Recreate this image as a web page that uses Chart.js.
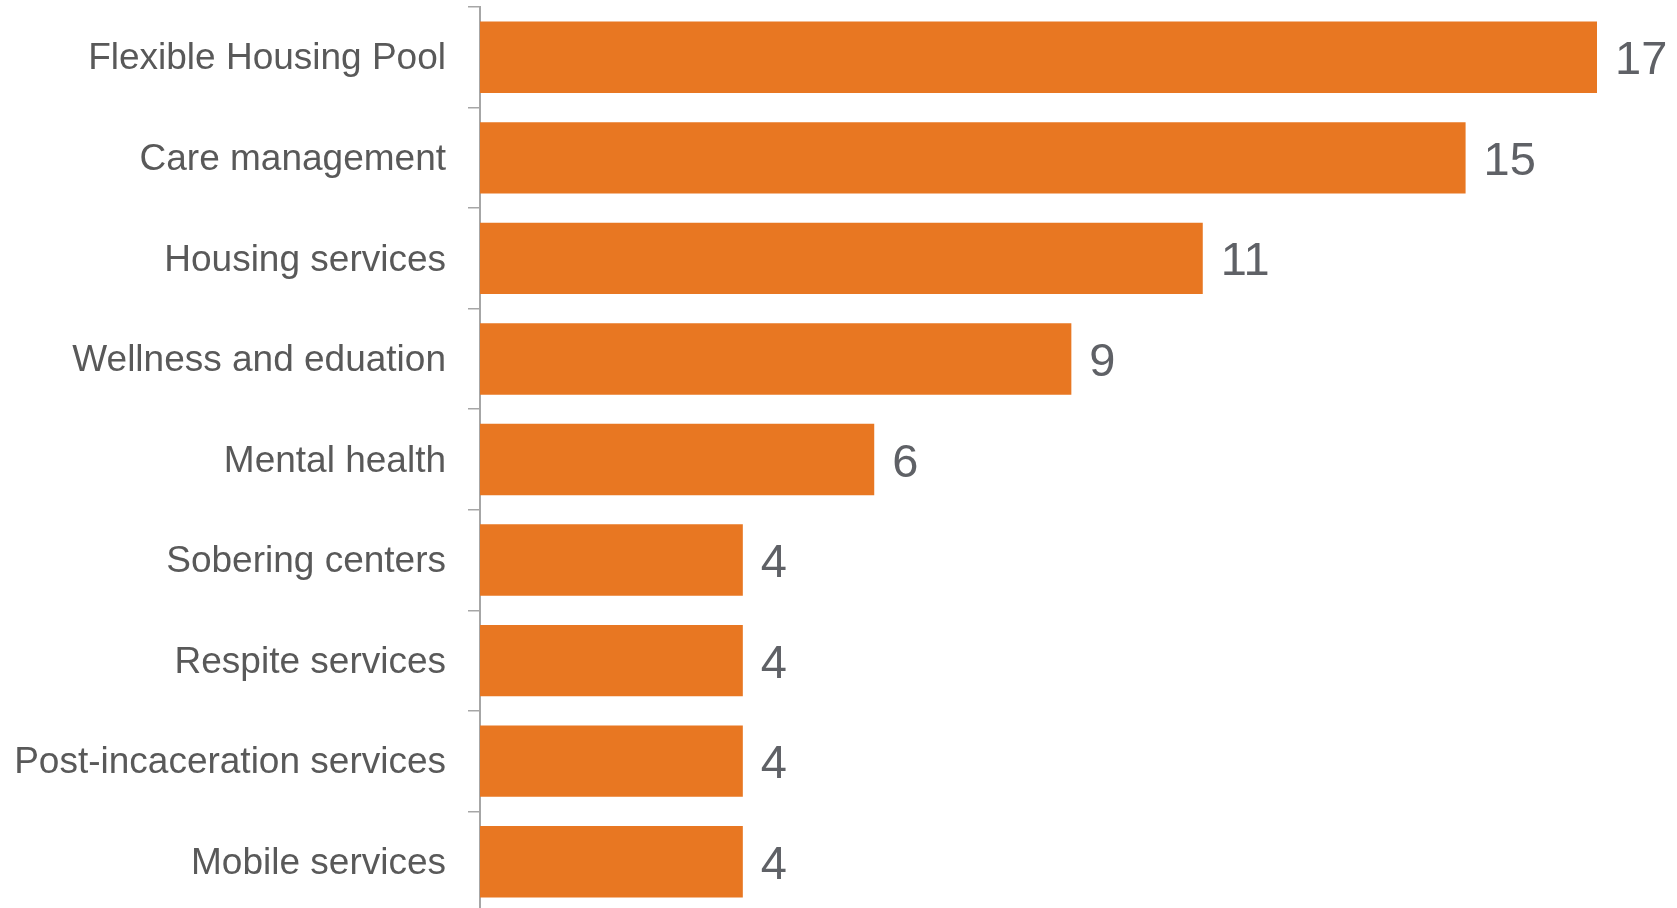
<!DOCTYPE html>
<html>
<head>
<meta charset="utf-8">
<script src="https://cdn.jsdelivr.net/npm/chart.js@4/dist/chart.umd.min.js"></script>
<style>
  html, body { margin: 0; padding: 0; background: #ffffff; overflow: hidden; }
  #wrap { position: relative; width: 1677px; height: 912px; }
</style>
</head>
<body>
<div id="wrap"><canvas id="c" width="1677" height="912"></canvas></div>
<script>
const categories = [
  "Flexible Housing Pool",
  "Care management",
  "Housing services",
  "Wellness and eduation",
  "Mental health",
  "Sobering centers",
  "Respite services",
  "Post-incaceration services",
  "Mobile services"
];
const counts = [17, 15, 11, 9, 6, 4, 4, 4, 4];

const FONT = "'Liberation Sans', Arial, Helvetica, sans-serif";

const valueLabels = {
  id: 'valueLabels',
  afterDatasetsDraw(chart) {
    const ctx = chart.ctx;
    const meta = chart.getDatasetMeta(0);
    ctx.save();
    ctx.font = "47px " + FONT;
    ctx.fillStyle = "#5f6166";
    ctx.textAlign = "left";
    ctx.textBaseline = "alphabetic";
    meta.data.forEach((bar, i) => {
      ctx.fillText(String(counts[i]), bar.x + 18, bar.y + 17);
    });
    ctx.restore();
  }
};

new Chart(document.getElementById('c'), {
  type: 'bar',
  data: {
    labels: categories,
    datasets: [{
      data: counts,
      backgroundColor: '#E87722',
      borderWidth: 0,
      barPercentage: 0.71,
      categoryPercentage: 1.0
    }]
  },
  options: {
    indexAxis: 'y',
    responsive: false,
    animation: false,
    devicePixelRatio: 1,
    layout: { padding: { top: 7, right: 80, bottom: 0, left: 0 } },
    plugins: { legend: { display: false }, tooltip: { enabled: false } },
    scales: {
      x: {
        display: false,
        min: 0,
        max: 17
      },
      y: {
        afterFit(scale) {
          scale.width = 480;
          scale.paddingTop = 0;
          scale.paddingBottom = 0;
        },
        border: { display: true, color: '#a6a6a6', width: 2 },
        grid: {
          display: true,
          drawOnChartArea: false,
          drawTicks: true,
          tickLength: 12,
          color: '#a6a6a6',
          lineWidth: 1.5,
          offset: true
        },
        ticks: {
          padding: 22,
          labelOffset: 2,
          color: '#595959',
          font: { family: FONT, size: 37 }
        }
      }
    }
  },
  plugins: [valueLabels]
});
</script>
</body>
</html>
